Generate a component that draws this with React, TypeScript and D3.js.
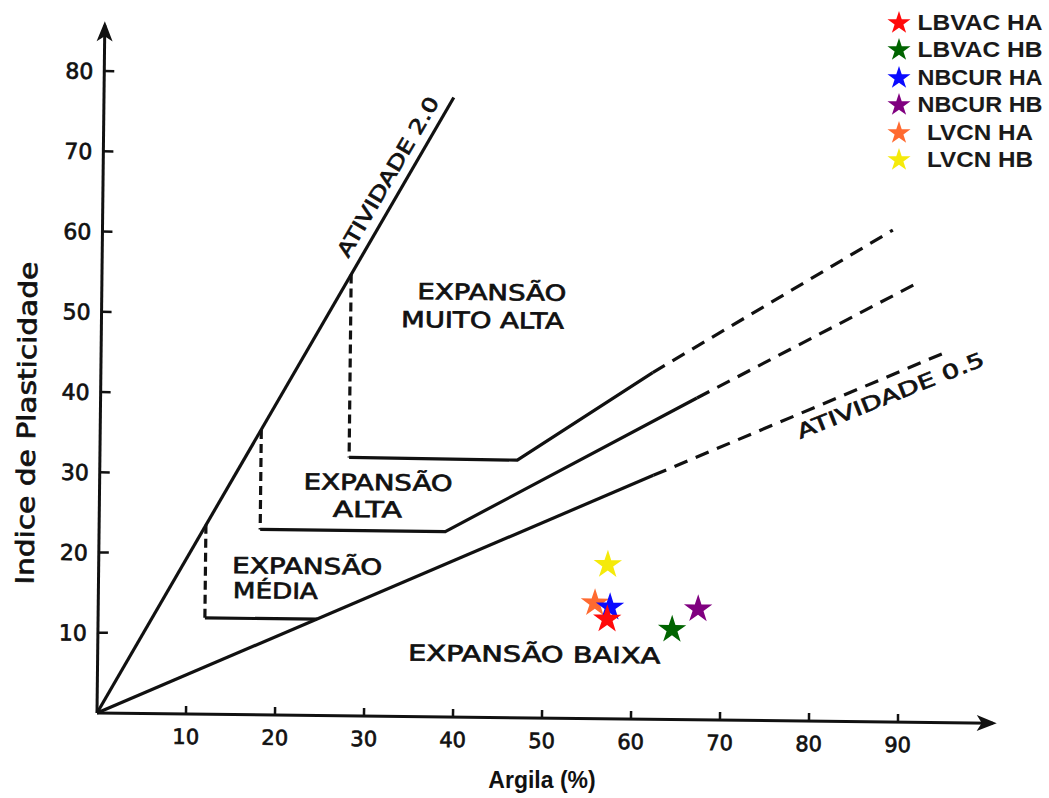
import React from 'react';
import * as d3 from 'd3';

type Pt = [number, number];

// Axis ticks
const xTicks = [10, 20, 30, 40, 50, 60, 70, 80, 90];
const yTicks = [10, 20, 30, 40, 50, 60, 70, 80];

// Activity reference lines (clay %, plasticity index)
const activity2: Pt[] = [[0, 0], [39.3, 77.2]];
const activity05Solid: Pt[] = [[0, 0], [62.2, 30.4]];
const activity05Dashed: Pt[] = [[62.2, 30.4], [95.0, 46.2]];

// Expansion class boundaries
const mediaDivider: Pt[] = [[12.0, 23.6], [12.0, 12.0]];
const mediaFloor: Pt[] = [[12.0, 12.0], [24.6, 12.0]];
const altaDivider: Pt[] = [[18.1, 35.5], [18.1, 23.1]];
const altaSolid: Pt[] = [[18.1, 23.1], [38.9, 23.1], [67.0, 40.1]];
const altaDashed: Pt[] = [[67.0, 40.1], [91.9, 54.9]];
const muitoAltaDivider: Pt[] = [[28.0, 55.0], [28.0, 32.2]];
const muitoAltaSolid: Pt[] = [[28.0, 32.2], [46.9, 32.1], [62.0, 43.2]];
const muitoAltaDashed: Pt[] = [[62.0, 43.2], [88.8, 61.3]];

// Soil samples
const samples = ['LBVAC HA', 'LBVAC HB', 'NBCUR HA', 'NBCUR HB', 'LVCN HA', 'LVCN HB'];
const clay = [57.2, 64.5, 57.5, 67.4, 55.8, 57.2];
const plasticity = [12.4, 11.2, 13.9, 13.8, 14.4, 19.2];
const sampleColors = ['#ff0a0a', '#006400', '#0a0aff', '#800080', '#ff6a30', '#f5ea0a'];
const drawOrder = [5, 4, 2, 0, 1, 3];

const ink = '#111';
const scanFont = '"DejaVu Sans", sans-serif';
const legendFont = '"Liberation Sans", Arial, sans-serif';

export default function App() {
  const x = d3.scaleLinear().domain([0, 90]).range([97, 898]);
  const y = d3.scaleLinear().domain([0, 80]).range([713, 71]);
  const line = d3.line<Pt>().x((d) => x(d[0])).y((d) => y(d[1]));
  const plotStar = d3.symbol().type(d3.symbolStar).size(250)() as string;
  const legendStar = d3.symbol().type(d3.symbolStar).size(165)() as string;

  const x0 = x(0);
  const y0 = y(0);
  const xEnd = x(101.1);
  const yEnd = y(86.2);

  const solid = (pts: Pt[], key: string) => (
    <path key={key} d={line(pts) as string} fill="none" stroke={ink} strokeWidth={3.2} strokeLinejoin="round" />
  );
  const dashed = (pts: Pt[], key: string, dash: string) => (
    <path key={key} d={line(pts) as string} fill="none" stroke={ink} strokeWidth={3.2} strokeDasharray={dash} />
  );

  const labelStyle = {
    fontFamily: scanFont,
    fontSize: 22,
    fill: ink,
    stroke: ink,
    strokeWidth: 0.7,
  } as const;

  return (
    <svg
      width={1049}
      height={798}
      style={{ position: 'absolute', left: 0, top: 0, background: '#fff' }}
    >
      <rect width={1049} height={798} fill="#fff" />
      <g transform={`rotate(0.65, ${x0}, ${y0})`}>
        {/* axes */}
        <line x1={x0} y1={y0} x2={xEnd - 4} y2={y0} stroke={ink} strokeWidth={3} />
        <line x1={x0} y1={y0} x2={x0} y2={yEnd + 4} stroke={ink} strokeWidth={3} />
        <path
          d={`M${xEnd},${y0} L${xEnd - 20},${y0 - 8} L${xEnd - 15},${y0} L${xEnd - 20},${y0 + 8} Z`}
          fill={ink}
        />
        <path
          d={`M${x0},${yEnd} L${x0 - 8},${yEnd + 20} L${x0},${yEnd + 15} L${x0 + 8},${yEnd + 20} Z`}
          fill={ink}
        />
        {xTicks.map((t) => (
          <g key={`xt${t}`}>
            <line x1={x(t)} x2={x(t)} y1={y0} y2={y0 - 8} stroke={ink} strokeWidth={2.5} />
            <text x={x(t)} y={y0 + 30} textAnchor="middle" style={{ ...labelStyle, fontSize: 21 }}>
              {t}
            </text>
          </g>
        ))}
        {yTicks.map((t) => (
          <g key={`yt${t}`}>
            <line x1={x0} x2={x0 + 10} y1={y(t)} y2={y(t)} stroke={ink} strokeWidth={2.5} />
            <text x={x0 - 11} y={y(t) + 8} textAnchor="end" style={{ ...labelStyle, fontSize: 22 }}>
              {t}
            </text>
          </g>
        ))}

        {/* activity lines and class boundaries */}
        {solid(activity2, 'a2')}
        {solid(activity05Solid, 'a05s')}
        {dashed(activity05Dashed, 'a05d', '14 9')}
        {dashed(mediaDivider, 'md', '9 5')}
        {solid(mediaFloor, 'mf')}
        {dashed(altaDivider, 'ad', '9 5')}
        {solid(altaSolid, 'as')}
        {dashed(altaDashed, 'adsh', '14 9')}
        {dashed(muitoAltaDivider, 'mad', '9 5')}
        {solid(muitoAltaSolid, 'mas')}
        {dashed(muitoAltaDashed, 'madsh', '14 9')}

        {/* class labels */}
        <text x={487} y={295.5} textAnchor="middle" textLength={149} lengthAdjust="spacingAndGlyphs" style={labelStyle}>EXPANSÃO</text>
        <text x={478} y={323.5} textAnchor="middle" textLength={163} lengthAdjust="spacingAndGlyphs" style={labelStyle}>MUITO ALTA</text>
        <text x={375.5} y={487} textAnchor="middle" textLength={149} lengthAdjust="spacingAndGlyphs" style={labelStyle}>EXPANSÃO</text>
        <text x={365} y={514} textAnchor="middle" textLength={69} lengthAdjust="spacingAndGlyphs" style={labelStyle}>ALTA</text>
        <text x={230.5} y={571.5} textLength={150} lengthAdjust="spacingAndGlyphs" style={labelStyle}>EXPANSÃO</text>
        <text x={231.5} y={596.5} textLength={85} lengthAdjust="spacingAndGlyphs" style={labelStyle}>MÉDIA</text>
        <text x={533.5} y={657} textAnchor="middle" textLength={252} lengthAdjust="spacingAndGlyphs" style={labelStyle}>EXPANSÃO BAIXA</text>
        <text
          transform={`translate(343, 256) rotate(-60.4)`}
          textLength={182}
          lengthAdjust="spacingAndGlyphs"
          style={{ ...labelStyle, fontSize: 20 }}
        >
          ATIVIDADE 2.0
        </text>
        <text
          transform={`translate(797, 431) rotate(-22.4)`}
          textLength={200}
          lengthAdjust="spacingAndGlyphs"
          style={{ ...labelStyle, fontSize: 20 }}
        >
          ATIVIDADE 0.5
        </text>
        <text
          transform={`translate(32, 424) rotate(-90)`}
          textAnchor="middle"
          textLength={323}
          lengthAdjust="spacingAndGlyphs"
          style={{ ...labelStyle, fontSize: 25 }}
        >
          Indice de Plasticidade
        </text>

        {/* samples */}
        {drawOrder.map((i) => (
          <path
            key={samples[i]}
            d={plotStar}
            transform={`translate(${x(clay[i])}, ${y(plasticity[i])})`}
            fill={sampleColors[i]}
          />
        ))}
      </g>

      <text
        x={542}
        y={788}
        textAnchor="middle"
        style={{ fontFamily: legendFont, fontSize: 23, fontWeight: 'bold', fill: ink }}
      >
        Argila (%)
      </text>

      {/* legend */}
      {samples.map((s, i) => {
        const base = [29, 56, 84, 111, 139, 166][i];
        return (
          <g key={`lg${s}`}>
            <path d={legendStar} transform={`translate(899, ${base - 6})`} fill={sampleColors[i]} />
            <text
              x={980}
              y={base + 1}
              textAnchor="middle"
              textLength={s.startsWith('LVCN') ? 106 : 125}
              lengthAdjust="spacingAndGlyphs"
              style={{ fontFamily: legendFont, fontSize: 21.5, fontWeight: 'bold', fill: '#1a1a1a' }}
            >
              {s}
            </text>
          </g>
        );
      })}
    </svg>
  );
}
